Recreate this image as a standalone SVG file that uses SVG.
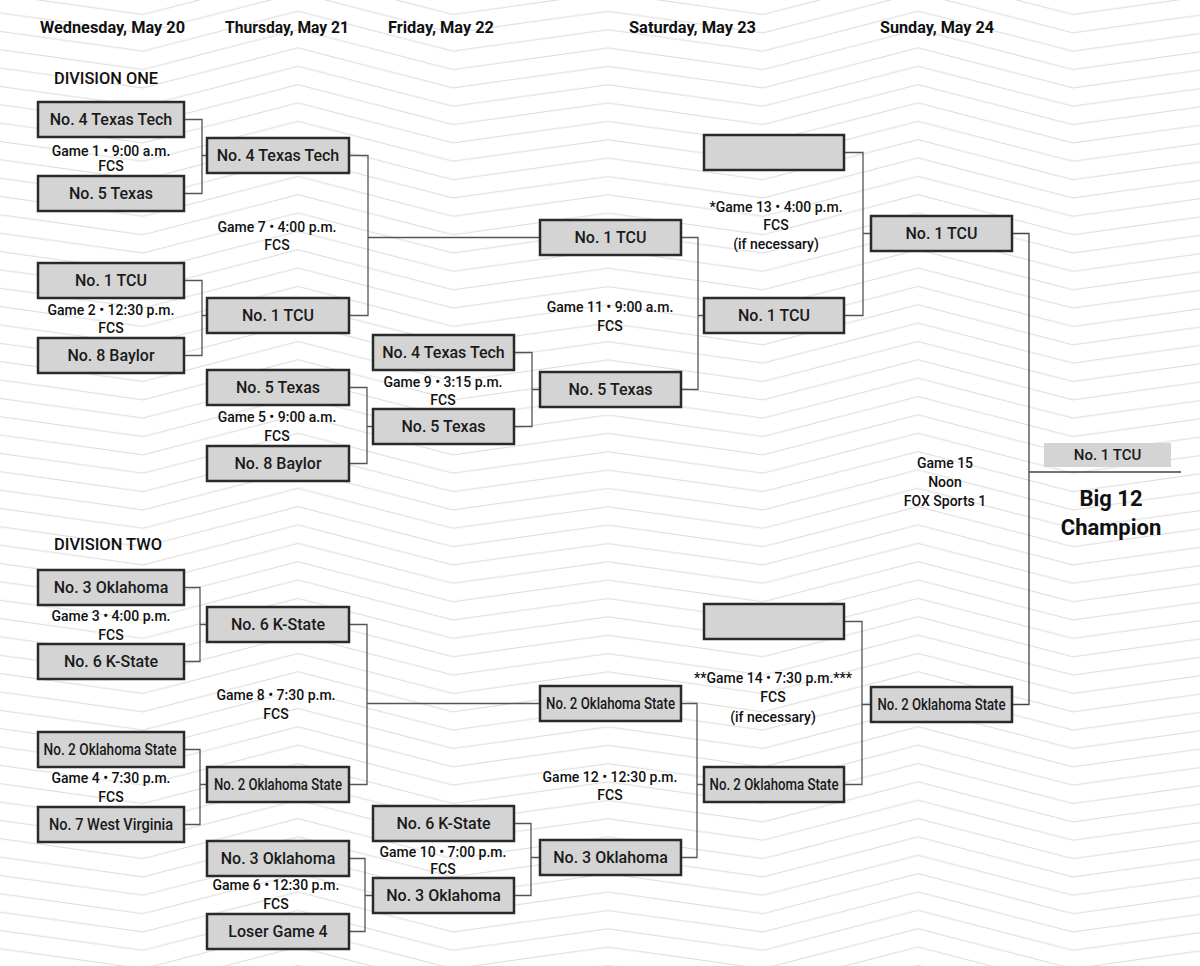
<svg xmlns="http://www.w3.org/2000/svg" width="1200" height="966" viewBox="0 0 1200 966">
<defs>
<pattern id="zz" patternUnits="userSpaceOnUse" x="-12" y="0" width="620" height="18.35">
<path d="M0,-25.45 L155,-3.85 L310,-43.85 L465,-3.85 L620,-25.45 M0,-7.1 L155,14.5 L310,-25.5 L465,14.5 L620,-7.1 M0,11.25 L155,32.85 L310,-7.15 L465,32.85 L620,11.25 M0,29.6 L155,51.2 L310,11.2 L465,51.2 L620,29.6 M0,47.95 L155,69.55 L310,29.55 L465,69.55 L620,47.95" fill="none" stroke="#dadada" stroke-width="1"/>
</pattern>
<style>
.box rect{fill:#d4d4d4;stroke:#2a2a2a;stroke-width:2.5}
.box text{font-family:Roboto,"Liberation Sans",sans-serif;font-size:16px;font-weight:500;fill:#1a1a1a;text-anchor:middle}
.lbl{font-family:Roboto,"Liberation Sans",sans-serif;font-size:14px;font-weight:500;fill:#111;text-anchor:middle}
.hdr{font-family:Roboto,"Liberation Sans",sans-serif;font-size:16px;font-weight:700;fill:#111}
.div{font-family:Roboto,"Liberation Sans",sans-serif;font-size:16px;font-weight:500;fill:#111}
.conn path{fill:none;stroke:#555;stroke-width:1.3}
</style>
</defs>
<rect width="1200" height="966" fill="#fff"/>
<rect width="1200" height="966" fill="url(#zz)"/>

<g id="headers">
<text class="hdr" x="40" y="32.5" textLength="145" lengthAdjust="spacingAndGlyphs">Wednesday, May 20</text>
<text class="hdr" x="225" y="32.5" textLength="124" lengthAdjust="spacingAndGlyphs">Thursday, May 21</text>
<text class="hdr" x="388" y="32.5" textLength="106" lengthAdjust="spacingAndGlyphs">Friday, May 22</text>
<text class="hdr" x="629" y="32.5" textLength="127" lengthAdjust="spacingAndGlyphs">Saturday, May 23</text>
<text class="hdr" x="880" y="32.5" textLength="114" lengthAdjust="spacingAndGlyphs">Sunday, May 24</text>
<text class="div" x="54" y="84" textLength="104" lengthAdjust="spacingAndGlyphs">DIVISION ONE</text>
<text class="div" x="54" y="550" textLength="108" lengthAdjust="spacingAndGlyphs">DIVISION TWO</text>
</g>

<g id="connectors" class="conn">
<path d="M184,119.5 H202 V193.5 H184 M202,155.5 H207"/>
<path d="M184,280.5 H202 V355.5 H184 M202,315.5 H207"/>
<path d="M349,387.5 H367 V463.5 H349 M367,426.5 H373"/>
<path d="M349,155.5 H368 V315.5 H349 M368,237.5 H540"/>
<path d="M514,352.5 H532 V426.5 H514 M532,389.5 H540"/>
<path d="M681,237.5 H698 V389.5 H681 M698,315.5 H704"/>
<path d="M844,152.5 H863 V315.5 H844 M863,233.5 H871"/>
<path d="M1012,233.5 H1029 V704.5 H1012 M1029,472 H1181" style="stroke:#444"/>
<path d="M184,587.5 H200 V661.5 H184 M200,624.5 H207"/>
<path d="M184,749.5 H200 V824.5 H184 M200,784.5 H207"/>
<path d="M349,624.5 H367 V784.5 H349 M367,703.5 H540"/>
<path d="M349,858.5 H365 V931.5 H349 M365,895.5 H373"/>
<path d="M514,823.5 H531 V895.5 H514 M531,857.5 H540"/>
<path d="M681,703.5 H697 V857.5 H681 M697,784.5 H704"/>
<path d="M844,621.5 H862 V784.5 H844 M862,704.5 H871"/>
</g>

<g id="b1" class="box"><rect x="38" y="102" width="146" height="35"/><text x="111" y="125">No. 4 Texas Tech</text></g>
<g id="b2" class="box"><rect x="38" y="176" width="146" height="35"/><text x="111" y="199">No. 5 Texas</text></g>
<g id="b3" class="box"><rect x="38" y="263" width="146" height="35"/><text x="111" y="286">No. 1 TCU</text></g>
<g id="b4" class="box"><rect x="38" y="338" width="146" height="35"/><text x="111" y="361">No. 8 Baylor</text></g>
<g id="b5" class="box"><rect x="38" y="570" width="146" height="35"/><text x="111" y="593">No. 3 Oklahoma</text></g>
<g id="b6" class="box"><rect x="38" y="644" width="146" height="35"/><text x="111" y="667">No. 6 K-State</text></g>
<g id="b7" class="box"><rect x="38" y="732" width="146" height="35"/><text x="110" y="755" textLength="133" lengthAdjust="spacingAndGlyphs">No. 2 Oklahoma State</text></g>
<g id="b8" class="box"><rect x="38" y="807" width="146" height="35"/><text x="111" y="830" textLength="124" lengthAdjust="spacingAndGlyphs">No. 7 West Virginia</text></g>

<g id="c1" class="box"><rect x="207" y="138" width="142" height="35"/><text x="278" y="161">No. 4 Texas Tech</text></g>
<g id="c2" class="box"><rect x="207" y="298" width="142" height="35"/><text x="278" y="321">No. 1 TCU</text></g>
<g id="c3" class="box"><rect x="207" y="370" width="142" height="35"/><text x="278" y="393">No. 5 Texas</text></g>
<g id="c4" class="box"><rect x="207" y="446" width="142" height="35"/><text x="278" y="469">No. 8 Baylor</text></g>
<g id="c5" class="box"><rect x="207" y="607" width="142" height="35"/><text x="278" y="630">No. 6 K-State</text></g>
<g id="c6" class="box"><rect x="207" y="767" width="142" height="35"/><text x="278" y="790" textLength="128" lengthAdjust="spacingAndGlyphs">No. 2 Oklahoma State</text></g>
<g id="c7" class="box"><rect x="207" y="841" width="142" height="35"/><text x="278" y="864">No. 3 Oklahoma</text></g>
<g id="c8" class="box"><rect x="207" y="914" width="142" height="35"/><text x="278" y="937">Loser Game 4</text></g>

<g id="d1" class="box"><rect x="373" y="335" width="141" height="35"/><text x="443.5" y="358">No. 4 Texas Tech</text></g>
<g id="d2" class="box"><rect x="373" y="409" width="141" height="35"/><text x="443.5" y="432">No. 5 Texas</text></g>
<g id="d3" class="box"><rect x="373" y="806" width="141" height="35"/><text x="443.5" y="829">No. 6 K-State</text></g>
<g id="d4" class="box"><rect x="373" y="878" width="141" height="35"/><text x="443.5" y="901">No. 3 Oklahoma</text></g>

<g id="e1" class="box"><rect x="540" y="220" width="141" height="35"/><text x="610.5" y="243">No. 1 TCU</text></g>
<g id="e2" class="box"><rect x="540" y="372" width="141" height="35"/><text x="610.5" y="395">No. 5 Texas</text></g>
<g id="e3" class="box"><rect x="540" y="686" width="141" height="35"/><text x="610.5" y="709" textLength="129" lengthAdjust="spacingAndGlyphs">No. 2 Oklahoma State</text></g>
<g id="e4" class="box"><rect x="540" y="840" width="141" height="35"/><text x="610.5" y="863">No. 3 Oklahoma</text></g>

<g id="f1" class="box"><rect x="704" y="135" width="140" height="35"/></g>
<g id="f2" class="box"><rect x="704" y="298" width="140" height="35"/><text x="774" y="321">No. 1 TCU</text></g>
<g id="f3" class="box"><rect x="704" y="604" width="140" height="35"/></g>
<g id="f4" class="box"><rect x="704" y="767" width="140" height="35"/><text x="774" y="790" textLength="129" lengthAdjust="spacingAndGlyphs">No. 2 Oklahoma State</text></g>

<g id="g1" class="box"><rect x="871" y="216" width="141" height="35"/><text x="941.5" y="239">No. 1 TCU</text></g>
<g id="g2" class="box"><rect x="871" y="687" width="141" height="35"/><text x="941.5" y="710" textLength="128" lengthAdjust="spacingAndGlyphs">No. 2 Oklahoma State</text></g>

<g id="champion">
<rect x="1044" y="443" width="127" height="24" fill="#d4d4d4"/>
<text x="1107.5" y="459.5" style="font-family:Roboto,'Liberation Sans',sans-serif;font-size:15px;font-weight:500;fill:#1a1a1a;text-anchor:middle">No. 1 TCU</text>
<text x="1111" y="506" style="font-family:Roboto,'Liberation Sans',sans-serif;font-size:22px;font-weight:700;fill:#111;text-anchor:middle">Big 12</text>
<text x="1111" y="535" style="font-family:Roboto,'Liberation Sans',sans-serif;font-size:22px;font-weight:700;fill:#111;text-anchor:middle">Champion</text>
</g>

<g id="labels">
<text class="lbl" x="111" y="156">Game 1 • 9:00 a.m.</text><text class="lbl" x="111" y="171">FCS</text>
<text class="lbl" x="111" y="315">Game 2  • 12:30 p.m.</text><text class="lbl" x="111" y="333">FCS</text>
<text class="lbl" x="277" y="232">Game 7 • 4:00 p.m.</text><text class="lbl" x="277" y="250">FCS</text>
<text class="lbl" x="277" y="422">Game 5 • 9:00 a.m.</text><text class="lbl" x="277" y="441">FCS</text>
<text class="lbl" x="443" y="387">Game 9 • 3:15 p.m.</text><text class="lbl" x="443" y="405">FCS</text>
<text class="lbl" x="610" y="312">Game 11 • 9:00 a.m.</text><text class="lbl" x="610" y="331">FCS</text>
<text class="lbl" x="776" y="212">*Game 13 • 4:00 p.m.</text><text class="lbl" x="776" y="230">FCS</text><text class="lbl" x="776" y="249">(if necessary)</text>
<text class="lbl" x="945" y="468">Game 15</text><text class="lbl" x="945" y="487">Noon</text><text class="lbl" x="945" y="506">FOX Sports 1</text>
<text class="lbl" x="111" y="621">Game 3 • 4:00 p.m.</text><text class="lbl" x="111" y="640">FCS</text>
<text class="lbl" x="276" y="700">Game 8 • 7:30 p.m.</text><text class="lbl" x="276" y="719">FCS</text>
<text class="lbl" x="111" y="783">Game 4  • 7:30 p.m.</text><text class="lbl" x="111" y="802">FCS</text>
<text class="lbl" x="276" y="890">Game 6 • 12:30 p.m.</text><text class="lbl" x="276" y="909">FCS</text>
<text class="lbl" x="443" y="857">Game 10 • 7:00 p.m.</text><text class="lbl" x="443" y="874">FCS</text>
<text class="lbl" x="610" y="782">Game 12 • 12:30 p.m.</text><text class="lbl" x="610" y="800">FCS</text>
<text class="lbl" x="773" y="683">**Game 14 • 7:30 p.m.***</text><text class="lbl" x="773" y="702">FCS</text><text class="lbl" x="773" y="722">(if necessary)</text>
</g>
</svg>
